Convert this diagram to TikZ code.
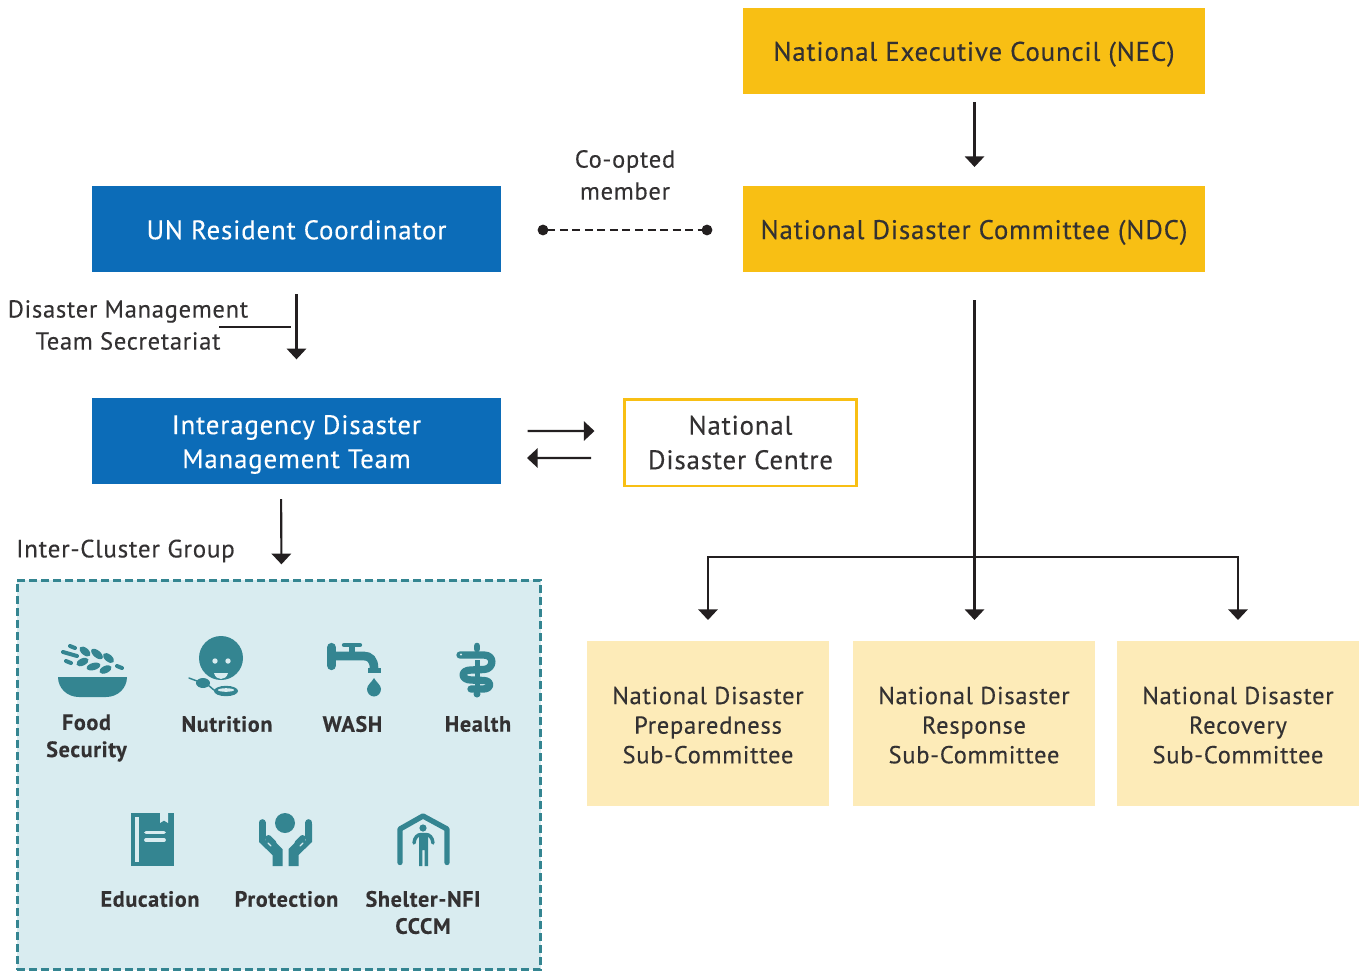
\documentclass[tikz,border=0pt]{standalone}
\usepackage{fontspec}
\setmainfont[LetterSpace=3,FakeBold=0.25,BoldFeatures={LetterSpace=3}]{PT Sans}
\usetikzlibrary{arrows.meta,calc}
\definecolor{goldc}{HTML}{F8BF14}
\definecolor{bluec}{HTML}{0C6CB8}
\definecolor{palec}{HTML}{FDEBB8}
\definecolor{bgc}{HTML}{D9ECF0}
\definecolor{tealc}{HTML}{348591}
\definecolor{inkc}{HTML}{231F20}
\definecolor{txtc}{HTML}{333132}
\newcommand\tall[1]{\rule{0pt}{#1}}
\tikzset{
  box/.style={inner sep=0pt,outer sep=0pt,align=center,text=txtc},
  mainfont/.style={font=\fontsize{20.2}{25.5}\selectfont},
  goldbox/.style={box,mainfont,fill=goldc,minimum width=346.5pt,minimum height=64.5pt},
  bluebox/.style={box,mainfont,fill=bluec,text=white,minimum width=306.75pt,minimum height=64.5pt},
  subbox/.style={box,fill=palec,minimum width=181.5pt,minimum height=123.75pt,font=\fontsize{18.4}{22.2}\selectfont},
  lab/.style={inner sep=0pt,align=center,text=txtc,font=\fontsize{18.4}{24}\selectfont},
  clab/.style={inner sep=0pt,align=center,text=txtc,font=\fontsize{16.6}{20.3}\selectfont\bfseries},
  arr/.style={draw=inkc,line width=1.6pt,-{Triangle[width=14.5pt,length=8pt]}},
  thin line/.style={draw=inkc,line width=1.6pt},
  ic/.style={fill=tealc,draw=none},
  icl/.style={draw=tealc,line cap=round,line join=round},
}
\begin{document}
\begin{tikzpicture}[x=0.75pt,y=-0.75pt]
\useasboundingbox (0,0) rectangle (1368,972);
% nodes
\node[goldbox] (nec) at (974,51) {\tall{19.2pt}National Executive Council (NEC)};
\node[goldbox] (ndc) at (974,229) {\tall{19.5pt}National Disaster Committee (NDC)};
\node[bluebox] (un) at (296.5,229) {\tall{15.7pt}UN Resident Coordinator};
\node[bluebox] (idmt) at (296.5,441) {\tall{19.5pt}Interagency Disaster\\Management Team};
\node[box,mainfont,draw=goldc,line width=2pt,fill=white,minimum width=174pt,minimum height=65pt] (ndcen) at (740.5,442.5) {National\\[.4pt]Disaster Centre};
\node[subbox] (prep) at (708,723.5) {\tall{15.5pt}National Disaster\\Preparedness\\Sub-Committee};
\node[subbox] (resp) at (974,723.5) {\tall{15.5pt}National Disaster\\Response\\Sub-Committee};
\node[subbox] (rec) at (1238,723.5) {\tall{15.5pt}National Disaster\\Recovery\\Sub-Committee};
\node[lab] (coopt) at (625,175) {Co-opted\\member};
\node[lab] (sec) at (128,325) {Disaster Management\\Team Secretariat};
\node[lab,font=\fontsize{18.8}{24}\selectfont] (icg) at (125.5,551) {Inter-Cluster Group};
\node[draw=tealc,fill=bgc,line width=1.9pt,dash pattern=on 6pt off 3pt,inner sep=0pt,outer sep=0pt,minimum width=392.5pt,minimum height=292pt] (cl) at (279,775) {};
% connectors
\draw[arr,shorten <=6pt,shorten >=14.25pt] ([xshift=.4pt]nec.south) -- ([xshift=.4pt]ndc.north);
\draw[arr,shorten <=16.5pt,shorten >=29pt] (un.south) -- (idmt.north);
\draw[draw=inkc,line width=1.6pt,dash pattern=on 6pt off 3.4pt,{Circle[length=8pt]}-{Circle[length=8pt]},shorten <=27.5pt,shorten >=23pt] ([yshift=-.75pt]un.east) -- ([yshift=-.75pt]ndc.west);
\coordinate (secL) at (219,327);
\coordinate (secR) at (291,327);
\draw[thin line] (secL) -- (secR);
\draw[arr,shorten <=20pt,shorten >=22.5pt] ([yshift=7.5pt]idmt.east) -- ([yshift=8.6pt]ndcen.west);
\draw[arr,shorten <=25pt,shorten >=19.5pt] ([yshift=-11.6pt]ndcen.west) -- ([yshift=-12.75pt]idmt.east);
\draw[arr,shorten <=11.25pt,shorten >=12pt] ([xshift=-11.6pt]idmt.south) -- ([xshift=1.9pt]cl.north);
\coordinate (jn) at (974.5,557);
\draw[arr,shorten <=21pt,shorten >=15.75pt] ([xshift=.4pt]ndc.south) -- ([xshift=.4pt]resp.north);
\draw[arr,shorten >=15.75pt] (jn) -| (prep.north);
\draw[arr,shorten >=15.75pt] (jn) -| (rec.north);
% cluster labels
\node[clab] (l1) at (86.5,738) {Food\\Security};
\node[clab] (l2) at (227,724) {Nutrition};
\node[clab] (l3) at (352.5,724) {WASH};
\node[clab] (l4) at (478,724) {Health};
\node[clab] (l5) at (150,899) {Education};
\node[clab] (l6) at (286.5,899) {Protection};
\node[clab] (l7) at (423,912.5) {Shelter-NFI\\CCCM};
% Food icon
\fill[ic] (58,677) -- (127,677) .. controls (127,688) and (118,697) .. (106,697) -- (79,697) .. controls (67,697) and (58,688) .. (58,677) -- cycle;
\foreach \x/\y/\r/\a in {85/651.5/6.5/-40, 97/654/7/-40, 108.5/658/6.5/-40, 82.5/662/6.5/25, 93.5/666.5/7/15, 105.5/669.5/6.5/25}{
  \fill[ic,rotate around={\a:(\x,\y)}] (\x,\y) ellipse[x radius=\r,y radius=3.6];
}
\foreach \a/\b/\c/\d in {70/646/75/648, 63/652/77/656, 66/661/71/663, 117/666/122/668}{
  \draw[icl,line width=3pt] (\a,\b) -- (\c,\d);
}
% Nutrition icon
\fill[ic] (221,658) circle[radius=22];
\fill[bgc] (215,661) circle[radius=2.7] (228,661) circle[radius=2.7];
\fill[bgc] (214,673) -- (228,673) .. controls (227,677) and (224,679) .. (221,679) .. controls (218,679) and (215,677) .. (214,673) -- cycle;
\draw[icl,line width=1.1pt] (189,678) -- (197,681);
\fill[ic] (203,683) ellipse[x radius=7,y radius=5];
\draw[icl,line width=1.1pt] (208,685) .. controls (212,688) and (214,691) .. (217,691);
\fill[ic] (226,691) ellipse[x radius=12,y radius=5.2];
\fill[bgc] (226,690) ellipse[x radius=8,y radius=1.8];
% WASH icon
\draw[icl,line width=7pt] (331.5,647.5) -- (331.5,665.5);
\draw[line width=6.5pt,draw=tealc] (334,656) -- (364,656) .. controls (370,656) and (374,660) .. (374,668);
\fill[ic] (368,668) rectangle (381,673);
\draw[line width=4pt,draw=tealc] (352,647) -- (352,654);
\draw[icl,line width=3.2pt] (344,645) -- (360,645);
\fill[ic] (374,678) .. controls (376,682) and (381,685) .. (381,689) .. controls (381,693) and (378,696.5) .. (374,696.5) .. controls (370,696.5) and (367,693) .. (367,689) .. controls (367,685) and (372,682) .. (374,678) -- cycle;
% Health icon
\draw[icl,line width=5pt] (477,646) -- (477,649);
\fill[ic] (474.5,660) rectangle (479.5,695);
\fill[ic] (477,694) circle[radius=3.5];
\draw[icl,line width=5.5pt] (460,655) -- (484,655) .. controls (495,655) and (494,669) .. (484,669.5) -- (471,670) .. controls (460,670) and (461,680) .. (471,680) -- (484,680.5) .. controls (492,681) and (492,689) .. (483,689) -- (471,689);
\fill[bgc] (461,654.5) circle[radius=1.2];
% Education icon
\fill[ic] (131,813) rectangle (174,866);
\fill[bgc] (135,817) rectangle (139,862);
\fill[bgc] (160,813) -- (168,813) -- (168,823) -- (164,820.5) -- (160,823) -- cycle;
\draw[icl,draw=bgc,line width=2.8pt] (146,832.5) -- (164,832.5) (146,840) -- (164,840);
% Protection icon
\fill[ic] (285,823) circle[radius=10];
\foreach \s in {1,-1}{
\begin{scope}[shift={(285.5,0)},xscale=\s]
\fill[ic] (-26.5,842) -- (-13,855) -- (-13,866) -- (-3,866) -- (-3,849) -- (-16,836) -- (-20,841) -- (-20,824) -- (-26.5,824) -- cycle;
\draw[icl,line width=5pt] (-23.3,822.5) -- (-23.3,838);
\draw[icl,line width=4.5pt] (-17,838) -- (-12,843);
\draw[icl,draw=bgc,line width=1pt] (-17.5,843) -- (-14.5,846);
\end{scope}}
% Shelter icon
\draw[icl,line width=4pt,miter limit=4] (400,862.5) -- (400,829) -- (423,816) -- (447,829) -- (447,862.5);
\fill[ic] (423,828) circle[radius=3.6];
\fill[ic] (419,833.5) -- (428,833.5) -- (428,866) -- (424.6,866) -- (424.6,850) -- (422.4,850) -- (422.4,866) -- (419,866) -- cycle;
\draw[icl,line width=2.6pt] (414,843) .. controls (414.5,837) and (418,834.5) .. (421,834.5) -- (426,834.5) .. controls (429,834.5) and (432.5,837) .. (433,843);
\end{tikzpicture}
\end{document}
